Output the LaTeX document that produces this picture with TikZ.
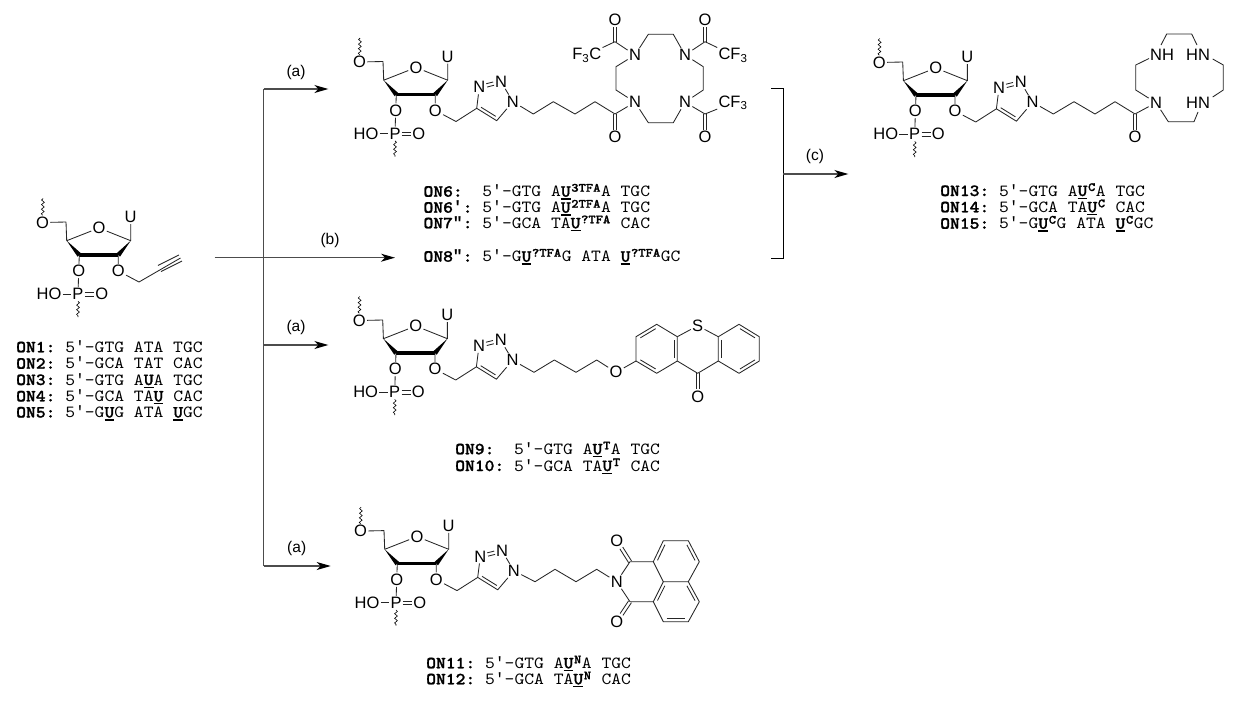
\documentclass[tikz,border=0pt]{standalone}
\usepackage{fontspec}
\setmainfont{Liberation Sans}
\setsansfont{Liberation Sans}
\setmonofont{lmmono10-regular.otf}[BoldFont=lmmonolt10-bold.otf,FakeStretch=1.1,BoldFeatures={FakeStretch=1.1,FakeBold=1.2}]
\newfontfamily\primefont{Liberation Mono}
\usetikzlibrary{calc,arrows.meta,decorations.pathmorphing}
\tikzset{
  bnd/.style={line width=.85pt,line join=round,black!85},
  bold/.style={line width=3.4pt,black},
  wavy/.style={line width=.6pt,decorate,decoration={snake,amplitude=1.4pt,segment length=4.6pt},black},
  atom/.style={font=\sffamily\fontsize{16.5}{16.5}\selectfont,inner sep=1.2pt,text=black},
  lab/.style={font=\sffamily\fontsize{15.5}{16}\selectfont,inner sep=0pt,text=black},
  seqt/.style={anchor=base west,inner sep=0pt,font=\ttfamily\fontsize{17}{17}\selectfont,text=black},
  rxn/.style={line width=1.2pt,black!70},
  rxna/.style={rxn,-{Stealth[length=14pt,width=8pt,inset=4pt,black]}},
  brk/.style={line width=.9pt,black}
}
\newcommand{\ub}[1]{\rlap{\rule[-3pt]{9.8pt}{1.4pt}}\textbf{#1}}
\newcommand{\sups}[1]{\hspace{.6pt}\raisebox{5pt}{\bfseries\fontsize{12.6}{12.6}\selectfont #1}\hspace{.6pt}}
\newcommand{\primo}{{\primefont\fontsize{16.33}{16.33}\selectfont ′}}
\newcommand{\primb}{{\primefont\bfseries\fontsize{16.33}{16.33}\selectfont ′}}
\newcommand{\primbb}{{\primefont\bfseries\fontsize{16.33}{16.33}\selectfont ″}}
\newcommand{\inbond}[2]{\draw[bnd] ($(#1)!.13!(#2)!3.2pt!90:(#2)$) -- ($(#2)!.13!(#1)!3.2pt!-90:(#1)$);}
\newcommand{\dbond}[2]{%
  \path (#1) -- (#2) coordinate[pos=0] (dbp) coordinate[pos=1] (dbq);
  \draw[bnd] ($(dbp)!1.7pt!90:(dbq)$) -- ($(dbq)!1.7pt!-90:(dbp)$);
  \draw[bnd] ($(dbp)!1.7pt!-90:(dbq)$) -- ($(dbq)!1.7pt!90:(dbp)$);
}
% sugar with phosphate, in the frame of the starting material
\newcommand{\sugarcore}[1]{
  \node[atom] (#1o5) at (42.5,222.5) {O};
  \node[atom] (#1o4) at (99,228) {O};
  \node[atom] (#1u) at (130.7,217) {U};
  \node[atom] (#1o3) at (78.7,271) {O};
  \node[atom] (#1p) at (78,294.3) {P};
  \node[atom] (#1ho) at (49,294.3) {HO};
  \node[atom] (#1po) at (101.7,294.3) {O};
  \node[atom] (#1o2) at (118.3,271) {O};
  \coordinate (#1c5) at (66,222);
  \coordinate (#1c4) at (66.7,240.7);
  \coordinate (#1c3) at (79.3,255);
  \coordinate (#1c2) at (118.3,255);
  \coordinate (#1c1) at (130.7,240.7);
  \coordinate (#1ch) at (139,282);
  \coordinate (#1wa) at (43,198.5);
  \coordinate (#1wb) at (78,317);
  \draw[bnd] (#1o5) -- (#1c5) -- (#1c4) -- (#1o4) -- (#1c1) -- (#1u);
  \fill[black] (#1c4) -- (77.6,256.7) -- (81,253.3) -- cycle;
  \fill[black] (#1c1) -- (116.6,253.3) -- (120,256.7) -- cycle;
  \draw[bold] (#1c3) -- (#1c2);
  \draw[bnd] (#1c3) -- (#1o3);
  \draw[bnd] (#1o3) -- (#1p);
  \draw[bnd] (#1ho) -- (#1p);
  \dbond{#1p}{#1po}
  \draw[bnd] (#1c2) -- (#1o2) -- (#1ch);
  \draw[wavy] (#1o5) -- (#1wa);
  \draw[wavy] (#1p) -- (#1wb);
}
\newcommand{\triaz}[1]{
  \coordinate (#1t4) at (159.7,268.8);
  \coordinate (#1t5) at (179.7,281.2);
  \node[atom] (#1n1) at (195.9,262.2) {N};
  \node[atom] (#1n2) at (184,242.2) {N};
  \node[atom] (#1n3) at (162.3,247.8) {N};
  \draw[bnd] (#1ch) -- (#1t4) -- (#1n3);
  \dbond{#1n3}{#1n2}
  \draw[bnd] (#1n2) -- (#1n1) -- (#1t5) -- (#1t4);
  \inbond{#1t4}{#1t5}
}
\begin{document}
\begin{tikzpicture}[x=1pt,y=-1pt]
\useasboundingbox (0,0) rectangle (1238,702);
\fill[white] (0,0) rectangle (1238,702);

% ---------- starting material
\sugarcore{a}
\coordinate (aal) at (159.5,268.5);
\coordinate (aah) at (180.5,258);
\draw[bnd] (ach) -- (aah);
\draw[bnd] ($(aal)!3.4pt!90:(aah)$) -- ($(aah)!3.4pt!-90:(aal)$);
\draw[bnd] ($(aal)!3.4pt!-90:(aah)$) -- ($(aah)!3.4pt!90:(aal)$);
\node[seqt] (l1) at (16,352.3) {\textbf{ON1:} 5\primo-GTG ATA TGC};
\node[seqt] (l2) at (16,368.7) {\textbf{ON2:} 5\primo-GCA TAT CAC};
\node[seqt] (l3) at (16,385) {\textbf{ON3:} 5\primo-GTG A\ub{U}A TGC};
\node[seqt] (l4) at (16,401.4) {\textbf{ON4:} 5\primo-GCA TA\ub{U} CAC};
\node[seqt] (l5) at (16,417.5) {\textbf{ON5:} 5\primo-G\ub{U}G ATA \ub{U}GC};

% ---------- scheme lines
\coordinate (s0) at (214.7,257.7);
\coordinate (s1) at (263.7,257.7);
\coordinate (s2) at (395,257.7);
\coordinate (vt) at (263.7,89);
\coordinate (vm) at (263.7,345);
\coordinate (vb) at (263.7,566);
\coordinate (e1) at (328.3,89);
\coordinate (e2) at (328.3,345);
\coordinate (e3) at (330.7,566);
\draw[rxna] (s0) -- (s2);
\draw[rxn] (vb) -- (vt);
\draw[rxna] (vt) -- (e1);
\draw[rxna] (vm) -- (e2);
\draw[rxna] (vb) -- (e3);
\node[lab] (ra1) at (296,72) {(a)};
\node[lab] (rb) at (330,240) {(b)};
\node[lab] (ra2) at (296,327.3) {(a)};
\node[lab] (ra3) at (296.7,548.3) {(a)};
\coordinate (b0) at (771,88.7);
\coordinate (b1) at (783.3,88.7);
\coordinate (b2) at (783.3,258.3);
\coordinate (b3) at (771,258.3);
\coordinate (b4) at (783.3,174);
\coordinate (b5) at (848.3,174);
\draw[brk] (b0) -- (b1) -- (b2) -- (b3);
\draw[rxna] (b4) -- (b5);
\node[lab] (rc) at (815,156.7) {(c)};

% ---------- ON6 family
\begin{scope}[shift={(317,-160.5)}]
\sugarcore{b}
\triaz{b}
\end{scope}
\coordinate (bc1) at (533.3,114);
\coordinate (bc2) at (553.3,101.7);
\coordinate (bc3) at (575,114);
\coordinate (bc4) at (595,101.7);
\coordinate (bc5) at (615,114);
\node[atom] (bo5) at (615,137.3) {O};
\node[atom] (bnbl) at (635,102.2) {N};
\node[atom] (bntl) at (635,55) {N};
\node[atom] (bntr) at (685,55) {N};
\node[atom] (bnbr) at (685,102.2) {N};
\coordinate (br1) at (616,90);
\coordinate (br2) at (616,66.7);
\coordinate (br3) at (648.3,34.3);
\coordinate (br4) at (673.3,34.3);
\coordinate (br5) at (703.3,66.7);
\coordinate (br6) at (703.3,90);
\coordinate (br7) at (673.3,122.7);
\coordinate (br8) at (648.3,122.7);
\draw[bnd] (bn1) -- (bc1) -- (bc2) -- (bc3) -- (bc4) -- (bc5) -- (bnbl);
\dbond{bc5}{bo5}
\draw[bnd] (bnbl) -- (br1) -- (br2) -- (bntl) -- (br3) -- (br4) -- (bntr) -- (br5) -- (br6) -- (bnbr) -- (br7) -- (br8) -- (bnbl);
\coordinate (bk1) at (615,41.7);
\coordinate (bk2) at (705,41.7);
\coordinate (bk3) at (705,114);
\node[atom] (bo1) at (615,20) {O};
\node[atom] (bo2) at (705,20) {O};
\node[atom] (bo3) at (705,137.3) {O};
\node[atom] (bf1) at (586.7,55) {F\textsubscript{3}C};
\node[atom] (bf2) at (733,55) {CF\textsubscript{3}};
\node[atom] (bf3) at (733,102.7) {CF\textsubscript{3}};
\draw[bnd] (bf1) -- (bk1) -- (bntl);
\dbond{bk1}{bo1}
\draw[bnd] (bntr) -- (bk2) -- (bf2);
\dbond{bk2}{bo2}
\draw[bnd] (bnbr) -- (bk3) -- (bf3);
\dbond{bk3}{bo3}
\node[seqt] (l6) at (423.3,196.7) {\textbf{ON6:}~ 5\primo-GTG A\ub{U}\sups{3TFA}A TGC};
\node[seqt] (l6p) at (423.3,212.7) {\textbf{ON6\primb:} 5\primo-GTG A\ub{U}\sups{2TFA}A TGC};
\node[seqt] (l7) at (423.3,228.3) {\textbf{ON7\primbb:} 5\primo-GCA TA\ub{U}\sups{?TFA} CAC};
\node[seqt] (l8) at (423.3,261.7) {\textbf{ON8\primbb:} 5\primo-G\ub{U}\sups{?TFA}G ATA \ub{U}\sups{?TFA}GC};

% ---------- ON13 family
\begin{scope}[shift={(836.7,-160)}]
\sugarcore{c}
\triaz{c}
\end{scope}
\coordinate (cc1) at (1053.3,114);
\coordinate (cc2) at (1074,101.7);
\coordinate (cc3) at (1095,114);
\coordinate (cc4) at (1115,101.7);
\coordinate (cc5) at (1135,114);
\node[atom] (co5) at (1135,137.3) {O};
\node[atom] (cnb) at (1156,102.7) {N};
\node[atom] (cnh) at (1162,55) {NH};
\node[atom] (chn1) at (1198,55) {HN};
\node[atom] (chn2) at (1198,102.7) {HN};
\coordinate (cr1) at (1135.7,90);
\coordinate (cr2) at (1135.7,65);
\coordinate (cq1) at (1149,58.5);
\coordinate (cq2) at (1161,45);
\coordinate (cr3) at (1166.7,34);
\coordinate (cr4) at (1191.7,34);
\coordinate (cq3) at (1197,45);
\coordinate (cq4) at (1212.7,59);
\coordinate (cr5) at (1223.3,65);
\coordinate (cr6) at (1223.3,90);
\coordinate (cq5) at (1212.7,97);
\coordinate (cq6) at (1198,112);
\coordinate (cr7) at (1194,121.7);
\coordinate (cr8) at (1168.3,121.7);
\draw[bnd] (cn1) -- (cc1) -- (cc2) -- (cc3) -- (cc4) -- (cc5) -- (cnb);
\dbond{cc5}{co5}
\draw[bnd] (cnb) -- (cr1) -- (cr2) -- (cq1);
\draw[bnd] (cq2) -- (cr3) -- (cr4) -- (cq3);
\draw[bnd] (cq4) -- (cr5) -- (cr6) -- (cq5);
\draw[bnd] (cq6) -- (cr7) -- (cr8) -- (cnb);
\node[seqt] (l13) at (940,196) {\textbf{ON13:} 5\primo-GTG A\ub{U}\sups{C}A TGC};
\node[seqt] (l14) at (940,212.3) {\textbf{ON14:} 5\primo-GCA TA\ub{U}\sups{C} CAC};
\node[seqt] (l15) at (940,228.7) {\textbf{ON15:} 5\primo-G\ub{U}\sups{C}G ATA \ub{U}\sups{C}GC};

% ---------- ON9 family
\begin{scope}[shift={(316.7,98)}]
\sugarcore{d}
\triaz{d}
\end{scope}
\coordinate (dc1) at (534,372.3);
\coordinate (dc2) at (554.3,360);
\coordinate (dc3) at (576,372.3);
\coordinate (dc4) at (596.7,360);
\node[atom] (dox) at (616,372.3) {O};
\coordinate (da1) at (636,361);
\coordinate (da2) at (636,336.7);
\coordinate (da3) at (656.7,324.3);
\coordinate (da4) at (677.3,336.7);
\coordinate (da5) at (677.3,361);
\coordinate (da6) at (656.7,373.3);
\node[atom] (dsu) at (697.7,325.7) {S};
\coordinate (dke) at (697.7,373.3);
\node[atom] (dok) at (697.7,396.7) {O};
\coordinate (db1) at (718.3,336.7);
\coordinate (db2) at (739,324.3);
\coordinate (db3) at (759.3,336.7);
\coordinate (db4) at (759.3,361);
\coordinate (db5) at (739,373.3);
\coordinate (db6) at (718.3,361);
\draw[bnd] (dn1) -- (dc1) -- (dc2) -- (dc3) -- (dc4) -- (dox) -- (da1);
\draw[bnd] (da1) -- (da2) -- (da3) -- (da4) -- (da5) -- (da6) -- cycle;
\draw[bnd] (da4) -- (dsu) -- (db1);
\draw[bnd] (da5) -- (dke) -- (db6);
\dbond{dke}{dok}
\draw[bnd] (db1) -- (db2) -- (db3) -- (db4) -- (db5) -- (db6) -- cycle;
\inbond{da3}{da2}
\inbond{da1}{da6}
\inbond{da5}{da4}
\inbond{db1}{db6}
\inbond{db5}{db4}
\inbond{db3}{db2}
\node[seqt] (l9) at (455,454.3) {\textbf{ON9:}~ 5\primo-GTG A\ub{U}\sups{T}A TGC};
\node[seqt] (l10) at (455,471) {\textbf{ON10:} 5\primo-GCA TA\ub{U}\sups{T} CAC};

% ---------- ON11 family
\begin{scope}[shift={(318,308.6)}]
\sugarcore{e}
\triaz{e}
\end{scope}
\coordinate (ec1) at (535,581.7);
\coordinate (ec2) at (555,569.3);
\coordinate (ec3) at (576,581.7);
\coordinate (ec4) at (596.7,569.3);
\node[atom] (eni) at (616.7,581.7) {N};
\coordinate (ek1) at (630,561.7);
\coordinate (ek2) at (630,601.7);
\node[atom] (eo1) at (616.7,540.7) {O};
\node[atom] (eo2) at (616.7,621.7) {O};
\coordinate (ea1) at (653.3,561.7);
\coordinate (ea2) at (663.3,540.7);
\coordinate (ea3) at (688.3,540.7);
\coordinate (ea4) at (699.3,561.7);
\coordinate (ea5) at (688.3,581.7);
\coordinate (ea6) at (663.3,581.7);
\coordinate (ea7) at (653.3,601.7);
\coordinate (ea8) at (663.3,621.7);
\coordinate (ea9) at (688.3,621.7);
\coordinate (ea10) at (699.3,601.7);
\draw[bnd] (en1) -- (ec1) -- (ec2) -- (ec3) -- (ec4) -- (eni);
\draw[bnd] (eni) -- (ek1) -- (ea1);
\draw[bnd] (eni) -- (ek2) -- (ea7);
\dbond{ek1}{eo1}
\dbond{ek2}{eo2}
\draw[bnd] (ea1) -- (ea2) -- (ea3) -- (ea4) -- (ea5) -- (ea6) -- cycle;
\draw[bnd] (ea6) -- (ea7) -- (ea8) -- (ea9) -- (ea10) -- (ea5);
\inbond{ea2}{ea1}
\inbond{ea4}{ea3}
\inbond{ea6}{ea7}
\inbond{ea8}{ea9}
\inbond{ea10}{ea5}
\node[seqt] (l11) at (426,668.3) {\textbf{ON11:} 5\primo-GTG A\ub{U}\sups{N}A TGC};
\node[seqt] (l12) at (426,684.3) {\textbf{ON12:} 5\primo-GCA TA\ub{U}\sups{N} CAC};
\end{tikzpicture}
\end{document}
